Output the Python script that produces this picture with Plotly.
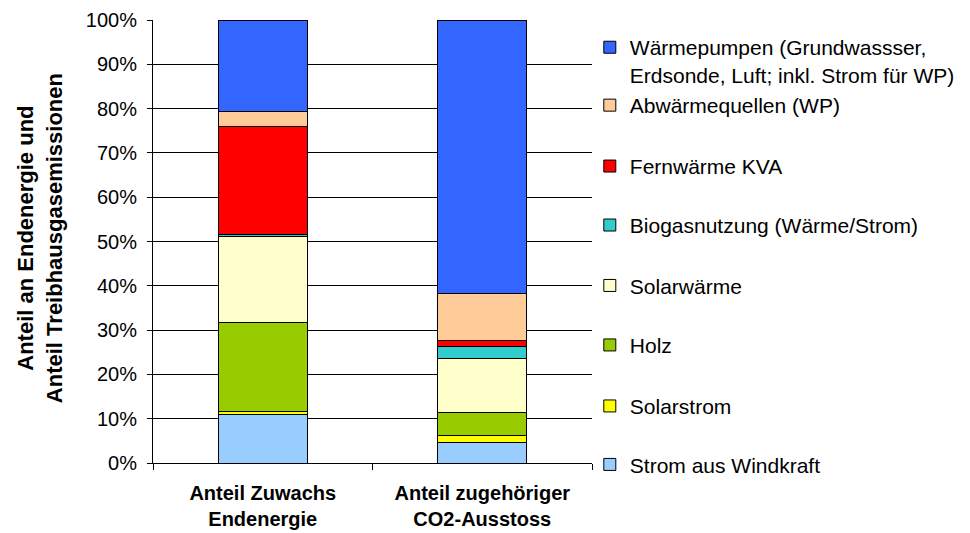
import plotly.graph_objects as go

categories = ["Anteil Zuwachs<br>Endenergie", "Anteil zugehöriger<br>CO2-Ausstoss"]

series_names = [
    "Strom aus Windkraft",
    "Solarstrom",
    "Holz",
    "Solarwärme",
    "Biogasnutzung (Wärme/Strom)",
    "Fernwärme KVA",
    "Abwärmequellen (WP)",
    "Wärmepumpen (Grundwassser,<br>Erdsonde, Luft; inkl. Strom für WP)",
]
wind = [11.0, 4.65]
solarstrom = [0.6, 1.5]
holz = [20.2, 5.15]
solarwaerme = [19.3, 12.4]
biogas = [0.5, 2.5]
fernwaerme = [24.4, 1.5]
abwaerme = [3.4, 10.6]
waermepumpen = [20.6, 61.7]

series_values = [wind, solarstrom, holz, solarwaerme, biogas, fernwaerme, abwaerme, waermepumpen]
colors = ["#99CCFF", "#FFFF00", "#99CC00", "#FFFFCC", "#33CCCC", "#FF0000", "#FFCC99", "#3366FF"]

y_ticks = [0, 10, 20, 30, 40, 50, 60, 70, 80, 90, 100]
y_ticklabels = [f"{v}%" for v in y_ticks]

# legend entry vertical positions (paper fraction), bottom series first
legend_y = [-0.004, 0.128, 0.2657, 0.400, 0.5364, 0.6695, 0.807, 0.984]

FONT = "Arial, 'Liberation Sans', sans-serif"

fig = go.Figure()
for i, (name, vals, col) in enumerate(zip(series_names, series_values, colors)):
    lg = "legend" if i == 0 else f"legend{i+1}"
    fig.add_trace(go.Bar(
        x=categories, y=vals, name=name, legend=lg,
        marker=dict(color=col, line=dict(color="black", width=1)),
        width=0.405,
    ))

layout_legends = {}
for i, yv in enumerate(legend_y):
    key = "legend" if i == 0 else f"legend{i+1}"
    is_top = (i == len(legend_y) - 1)
    layout_legends[key] = dict(
        x=0.995, xanchor="left", y=yv,
        yanchor="top" if is_top else "middle",
        valign="top", font=dict(size=21, family=FONT, color="black"),
        bgcolor="rgba(0,0,0,0)",
    )

fig.update_layout(
    width=962, height=525,
    margin=dict(l=145, r=378, t=12, b=70, autoexpand=False),
    barmode="stack",
    plot_bgcolor="white", paper_bgcolor="white",
    font=dict(family=FONT, size=20, color="black"),
    showlegend=True,
    xaxis=dict(
        type="category", showline=True, linecolor="black", linewidth=1,
        ticks="outside", tickson="boundaries", ticklen=6, tickcolor="black",
        tickfont=dict(size=20, family=FONT),
        tickvals=categories, ticktext=[f"<b>{c}</b>" for c in categories],
        ticklabelstandoff=12,
        showgrid=False,
    ),
    yaxis=dict(
        range=[0, 100], tickmode="array", tickvals=y_ticks, ticktext=y_ticklabels,
        showline=True, linecolor="black", linewidth=1,
        ticks="outside", ticklen=5, tickcolor="black",
        showgrid=True, gridcolor="black", gridwidth=1,
        tickfont=dict(size=20), ticklabelstandoff=6,
        zeroline=False,
    ),
    annotations=[dict(
        text="<b>Anteil an Endenergie und<br>Anteil Treibhausgasemissionen</b>",
        xref="paper", yref="paper", x=-0.257, y=0.508,
        xanchor="center", yanchor="middle", textangle=-90, showarrow=False,
        font=dict(size=22, family=FONT),
    )],
    **layout_legends,
)

fig.write_html("out.html")
